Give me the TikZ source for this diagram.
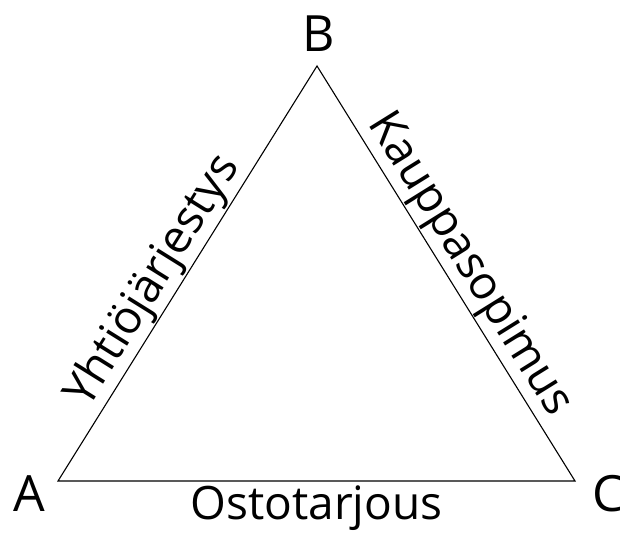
\documentclass[tikz,border=0pt]{standalone}
\usepackage{fontspec}
\setmainfont{Open Sans}
\begin{document}
\begin{tikzpicture}[
  x=1pt,y=1pt,
  corner/.style={inner sep=0pt,font=\fontsize{50}{60}\selectfont},
  side/.style={inner sep=1pt,font=\fontsize{46}{55}\selectfont},
  every path/.style={line width=1.1pt}
]
\useasboundingbox (0,0) rectangle (620,540);
\coordinate (A) at (58,59);
\coordinate (B) at (317,474);
\coordinate (C) at (575,59);
\node[corner] (la) at (29,46) {A};
\node[corner] (lb) at (319,506) {B};
\node[corner] (lc) at (608,46) {C};
\draw (A) -- node[side,sloped,above,pos=0.45] (ab) {Yhtiöjärjestys}
  (B) -- node[side,sloped,above,pos=0.51] (bc) {Kauppasopimus}
  (C) -- node[side,below=3pt] (ca) {Ostotarjous} cycle;
\end{tikzpicture}
\end{document}
